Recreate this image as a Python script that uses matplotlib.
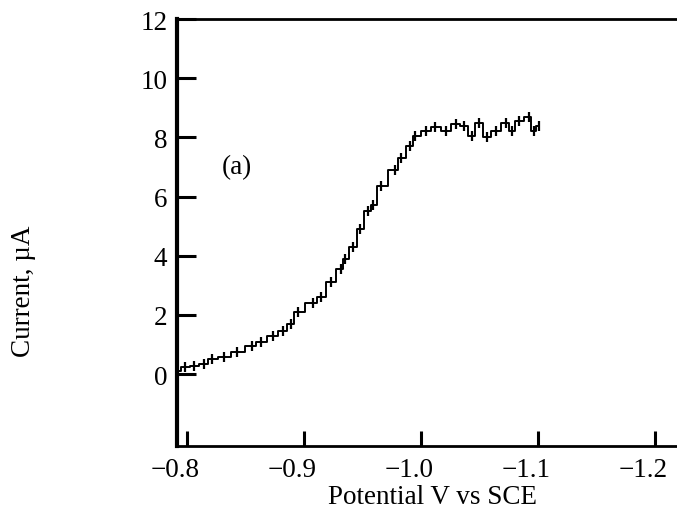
import matplotlib
matplotlib.use("Agg")
import matplotlib.pyplot as plt
import matplotlib.transforms as mtransforms

plt.rcParams['font.family'] = ['Liberation Serif', 'DejaVu Serif']

# Data (potential in V, current in µA)
potential = [-0.7914, -0.7983, -0.8060, -0.8146, -0.8215, -0.8318, -0.8430,
             -0.8559, -0.8628, -0.8731, -0.8817, -0.8886, -0.8946, -0.9075,
             -0.9144, -0.9230, -0.9316, -0.9350, -0.9419, -0.9479, -0.9548,
             -0.9591, -0.9660, -0.9780, -0.9832, -0.9909, -0.9952, -1.0046,
             -1.0124, -1.0210, -1.0296, -1.0365, -1.0433, -1.0494, -1.0562,
             -1.0640, -1.0726, -1.0777, -1.0837, -1.0923, -1.0966, -1.1009]
current = [0.10, 0.24, 0.27, 0.34, 0.50, 0.57, 0.74,
           0.95, 1.08, 1.30, 1.45, 1.70, 2.10, 2.40,
           2.60, 3.10, 3.55, 3.90, 4.30, 4.90, 5.50,
           5.70, 6.35, 6.90, 7.30, 7.70, 8.05, 8.20,
           8.35, 8.20, 8.45, 8.40, 8.05, 8.50, 8.00,
           8.20, 8.50, 8.20, 8.55, 8.70, 8.20, 8.40]

x_ticks = [-0.8, -0.9, -1.0, -1.1, -1.2]
x_tick_labels = ["\u22120.8", "\u22120.9", "\u22121.0", "\u22121.1", "\u22121.2"]
y_ticks = [0, 2, 4, 6, 8, 10, 12]
y_tick_labels = ["0", "2", "4", "6", "8", "10", "12"]

W, H = 677, 510
fig = plt.figure(figsize=(W / 100, H / 100), dpi=100)
ax = fig.add_axes([177 / W, (H - 447) / H, (W - 177) / W, (447 - 20) / H])

ax.plot(potential, current, color='black', linewidth=1.4, drawstyle='steps-mid',
        marker='|', markersize=7, markeredgewidth=1.6)

ax.set_xlim(-0.7914, -1.2189)
ax.set_ylim(-2.43, 12.0)

ax.set_xticks(x_ticks)
ax.set_xticklabels(x_tick_labels)
ax.set_yticks(y_ticks)
ax.set_yticklabels(y_tick_labels)

ax.tick_params(axis='y', direction='in', length=14, width=2.2, labelsize=19.5, pad=7)
ax.tick_params(axis='x', direction='in', length=11, width=2.2, labelsize=19.5, pad=8)

# reference tick labels sit slightly left of their ticks
offset = mtransforms.ScaledTranslation(-12 / 100, 0, fig.dpi_scale_trans)
for lbl in ax.get_xticklabels():
    lbl.set_transform(lbl.get_transform() + offset)

ax.spines['right'].set_visible(False)
ax.spines['left'].set_linewidth(3)
ax.spines['top'].set_linewidth(2)
ax.spines['bottom'].set_linewidth(2)

ax.text(-0.830, 7.0, "(a)", fontsize=19.5, ha='left', va='center')

fig.text(432 / W, (H - 504) / H, "Potential V vs SCE", fontsize=19.5,
         ha='center', va='baseline')
fig.text(24 / W, 1 - 291 / H, "Current, \u00b5A", fontsize=19.5,
         ha='center', va='center', rotation=90)

fig.savefig("out.png", dpi=100)
